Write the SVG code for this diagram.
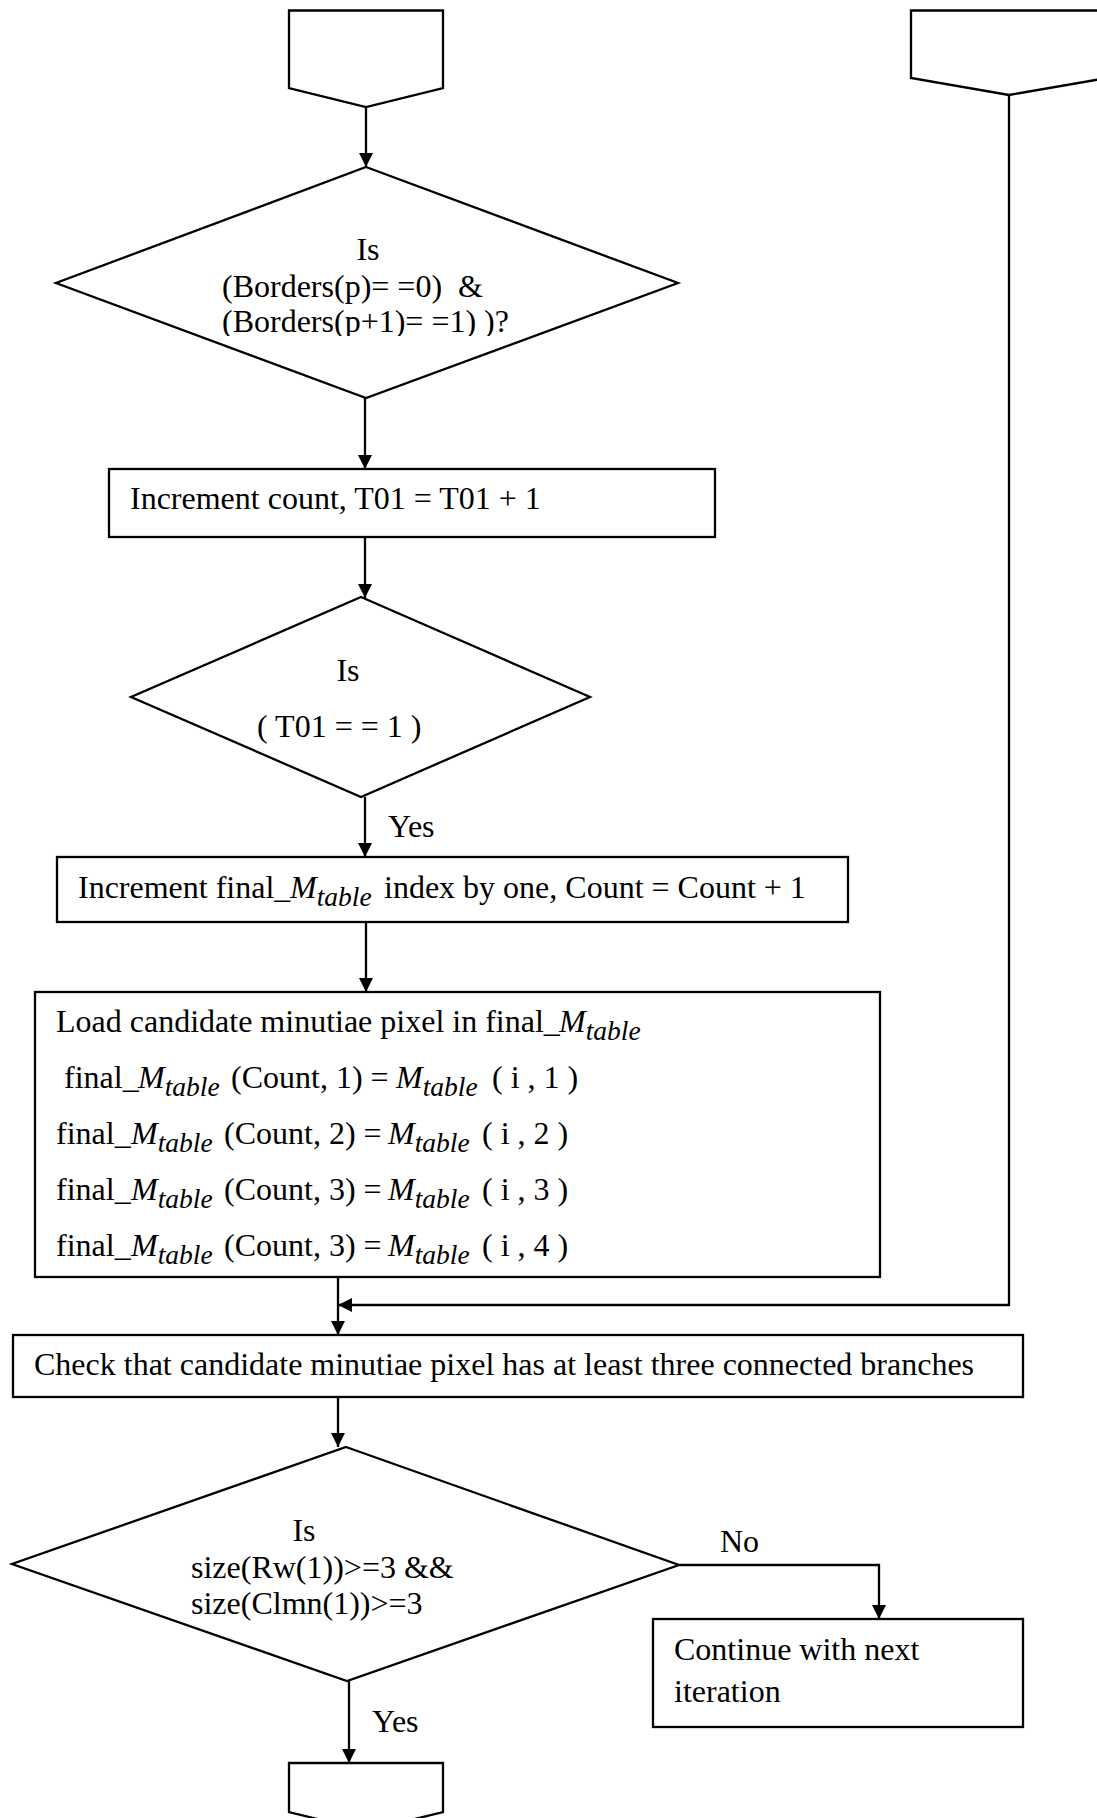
<svg xmlns="http://www.w3.org/2000/svg" width="1097" height="1818" viewBox="0 0 1097 1818">
  <style>
    .shape { fill: #fff; stroke: #000; stroke-width: 2.3; }
    .conn { fill: none; stroke: #000; stroke-width: 2.3; }
    text { font-family: "Liberation Serif", "Times New Roman", serif; font-size: 32px; fill: #000; }
    .m { font-style: italic; }
    .sub { font-style: italic; font-size: 27.5px; }
  </style>
  <defs>
    <marker id="arrow" viewBox="0 0 10 10" refX="10" refY="5" markerWidth="14" markerHeight="14" markerUnits="userSpaceOnUse" orient="auto">
      <path d="M0,0 L10,5 L0,10 z" fill="#000"/>
    </marker>
    <!-- text frame of the first decision: its last line is cut off at the bottom -->
    <clipPath id="clip-d1">
      <rect x="150" y="220" width="420" height="116"/>
    </clipPath>
  </defs>

  <rect width="1097" height="1818" fill="#fff"/>

  <!-- off-page connector, top -->
  <g id="connector-top">
    <polygon class="shape" points="289,10.5 443,10.5 443,88 366,107 289,88"/>
  </g>

  <!-- off-page connector, top right -->
  <g id="connector-right">
    <polygon class="shape" points="911,10.5 1107,10.5 1107,78 1009,95 911,78"/>
  </g>

  <g id="decision-borders">
    <polygon class="shape" points="366,167 678,283 366,398 56,283"/>
    <g clip-path="url(#clip-d1)">
      <text x="368" y="260" text-anchor="middle">Is</text>
      <text x="222" y="297" xml:space="preserve">(Borders(p)= =0)  &amp;</text>
      <text x="222" y="332" xml:space="preserve">(Borders(p+1)= =1) )?</text>
    </g>
  </g>

  <g id="increment-count">
    <rect class="shape" x="109" y="469" width="606" height="68"/>
    <text x="130" y="509">Increment count, T01 = T01 + 1</text>
  </g>

  <g id="decision-t01">
    <polygon class="shape" points="361,597 590,697 361,797 131,697"/>
    <text x="348" y="681" text-anchor="middle">Is</text>
    <text x="257" y="737" xml:space="preserve">( T01 = = 1 )</text>
  </g>

  <g id="increment-index">
    <rect class="shape" x="57" y="857" width="791" height="65"/>
    <text x="78" y="898">Increment final_<tspan class="m" x="290">M</tspan><tspan class="sub" dy="8">table</tspan><tspan x="384" dy="-8">index by one, Count = Count + 1</tspan></text>
  </g>

  <g id="load-candidate">
    <rect class="shape" x="35" y="992" width="845" height="285"/>
    <text x="56" y="1032">Load candidate minutiae pixel in final_<tspan class="m" x="559">M</tspan><tspan class="sub" dy="8">table</tspan></text>
    <text x="64" y="1088">final_<tspan class="m" x="138">M</tspan><tspan class="sub" dy="8">table</tspan><tspan x="231" dy="-8">(Count, 1) =</tspan><tspan class="m" x="396">M</tspan><tspan class="sub" dy="8">table</tspan><tspan x="492" dy="-8" xml:space="preserve">( i , 1 )</tspan></text>
    <text x="56" y="1144">final_<tspan class="m" x="131">M</tspan><tspan class="sub" dy="8">table</tspan><tspan x="224" dy="-8">(Count, 2) =</tspan><tspan class="m" x="388">M</tspan><tspan class="sub" dy="8">table</tspan><tspan x="482" dy="-8" xml:space="preserve">( i , 2 )</tspan></text>
    <text x="56" y="1200">final_<tspan class="m" x="131">M</tspan><tspan class="sub" dy="8">table</tspan><tspan x="224" dy="-8">(Count, 3) =</tspan><tspan class="m" x="388">M</tspan><tspan class="sub" dy="8">table</tspan><tspan x="482" dy="-8" xml:space="preserve">( i , 3 )</tspan></text>
    <text x="56" y="1256">final_<tspan class="m" x="131">M</tspan><tspan class="sub" dy="8">table</tspan><tspan x="224" dy="-8">(Count, 3) =</tspan><tspan class="m" x="388">M</tspan><tspan class="sub" dy="8">table</tspan><tspan x="482" dy="-8" xml:space="preserve">( i , 4 )</tspan></text>
  </g>

  <g id="check-branches">
    <rect class="shape" x="13" y="1335" width="1010" height="62"/>
    <text x="34" y="1375">Check that candidate minutiae pixel has at least three connected branches</text>
  </g>

  <g id="decision-size">
    <polygon class="shape" points="346,1447 679,1565 347,1681 12,1564"/>
    <text x="304" y="1541" text-anchor="middle">Is</text>
    <text x="191" y="1578">size(Rw(1))&gt;=3 &amp;&amp;</text>
    <text x="191" y="1614">size(Clmn(1))&gt;=3</text>
  </g>

  <g id="next-iteration">
    <rect class="shape" x="653" y="1619" width="370" height="108"/>
    <text x="674" y="1660">Continue with next</text>
    <text x="674" y="1702">iteration</text>
  </g>

  <!-- off-page connector, bottom -->
  <g id="connector-bottom">
    <polygon class="shape" points="289,1763 443,1763 443,1812 366,1831 289,1812"/>
  </g>

  <g id="connectors">
    <path class="conn" d="M366,107 V167" marker-end="url(#arrow)"/>
    <path class="conn" d="M365,398 V469" marker-end="url(#arrow)"/>
    <path class="conn" d="M365,537 V598" marker-end="url(#arrow)"/>
    <path class="conn" d="M365,797 V857" marker-end="url(#arrow)"/>
    <path class="conn" d="M366,922 V992" marker-end="url(#arrow)"/>
    <path class="conn" d="M338,1277 V1335" marker-end="url(#arrow)"/>
    <path class="conn" d="M1009,95 V1305 H338" marker-end="url(#arrow)"/>
    <path class="conn" d="M338,1397 V1447" marker-end="url(#arrow)"/>
    <path class="conn" d="M679,1565 H879 V1619" marker-end="url(#arrow)"/>
    <path class="conn" d="M349,1681 V1763" marker-end="url(#arrow)"/>
    <text x="388" y="837">Yes</text>
    <text x="720" y="1552">No</text>
    <text x="372" y="1732">Yes</text>
  </g>
</svg>
